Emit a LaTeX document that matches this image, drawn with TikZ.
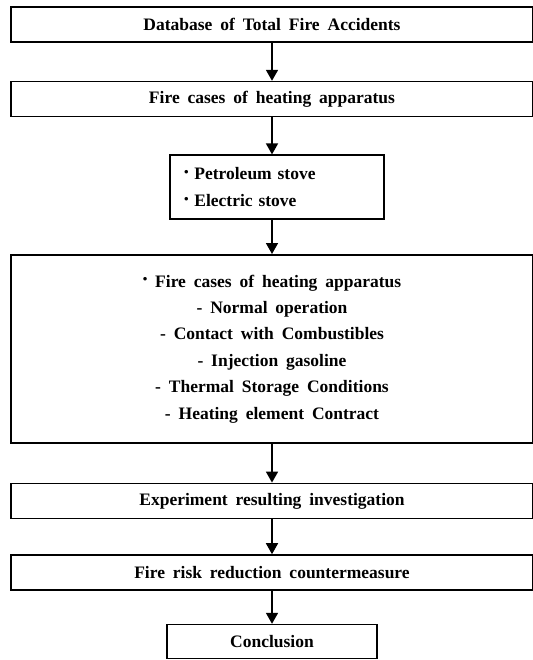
\documentclass[tikz,border=0pt]{standalone}
\usepackage{fontspec}
\setmainfont{Liberation Serif}[WordSpace=1.8]
\usepackage{tikz}
\usetikzlibrary{arrows.meta,positioning}

\newcommand{\itemdot}{{\fontsize{13pt}{13pt}\selectfont\raisebox{0.55ex}{\textbullet}}}

\begin{document}
\begin{tikzpicture}[x=1pt, y=1pt, node distance=36pt,
  stage/.style={rectangle, draw=black, line width=1.6pt, minimum width=522pt, minimum height=35pt, inner sep=0pt, font=\bfseries\fontsize{17.5pt}{21pt}\selectfont},
  listbox/.style={rectangle, draw=black, line width=1.6pt, text width=186pt, inner xsep=14pt, minimum height=64pt, align=left, font=\bfseries\fontsize{17.5pt}{27pt}\selectfont},
  bigbox/.style={stage, minimum height=188pt, align=center, font=\bfseries\fontsize{17.5pt}{26.4pt}\selectfont},
  endbox/.style={stage, minimum width=210pt, minimum height=34pt},
  line/.style={draw, line width=1.6pt, -{Triangle[width=12pt,length=11pt]}}]

  \useasboundingbox (0,0) rectangle (532,-660);

  \node [stage] (database) at (272,-24.5) {Database of Total Fire Accidents};
  \node [stage, below=38pt of database] (cases) {Fire cases of heating apparatus};
  \node [listbox, below=37pt of cases, xshift=5pt] (stoves) {\itemdot\ Petroleum stove\\ \itemdot\ Electric stove};
  \node [bigbox, below=34pt of stoves, xshift=-5pt] (factors) {\itemdot\ Fire cases of heating apparatus\\
    - Normal operation\\
    - Contact with Combustibles\\
    - Injection gasoline\\
    - Thermal Storage Conditions\\
    - Heating element Contract};
  \node [stage, below=39pt of factors] (experiment) {Experiment resulting investigation};
  \node [stage, below=35pt of experiment] (measure) {Fire risk reduction countermeasure};
  \node [endbox, below=33pt of measure] (conclusion) {Conclusion};

  \path [line] (database) -- (cases);
  \path [line] (cases.south) -- (cases.south |- stoves.north);
  \path [line] (factors.north |- stoves.south) -- (factors);
  \path [line] (factors) -- (experiment);
  \path [line] (experiment) -- (measure);
  \path [line] (measure) -- (conclusion);
\end{tikzpicture}
\end{document}
